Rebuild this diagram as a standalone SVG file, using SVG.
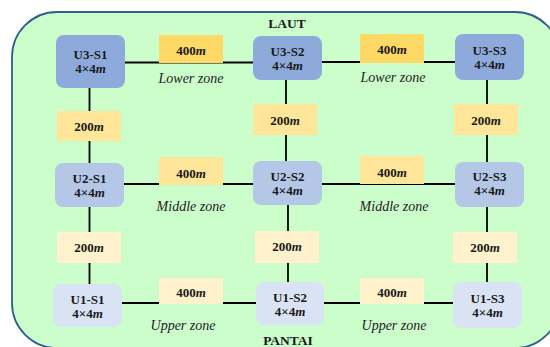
<svg xmlns="http://www.w3.org/2000/svg" width="550" height="347" viewBox="0 0 550 347">
  <style>
    .t { font-family: "Liberation Serif", "Times New Roman", serif; font-weight: bold; font-size: 13px; fill: #1a1a1a; text-anchor: middle; }
    .h { font-size: 13.5px; }
    .m { font-style: italic; }
    .zone { font-family: "Liberation Serif", "Times New Roman", serif; font-style: italic; font-size: 14px; fill: #222; text-anchor: middle; }
    .u3 { fill: #8eaadb; }
    .u2 { fill: #b4c7e7; }
    .u1 { fill: #dae3f3; }
    .la { fill: #ffd966; }
    .lb { fill: #ffe699; }
    .lc { fill: #fff2cc; }
    .link { stroke: #000; stroke-width: 1.8; fill: none; }
  </style>

  <!-- area boundary -->
  <rect x="12" y="12" width="548" height="336" rx="45" ry="45" fill="#ccfecc" stroke="#2f5f8f" stroke-width="1.8"/>
  <text class="t h" x="287" y="28">LAUT</text>
  <text class="t h" x="288" y="345">PANTAI</text>

  <!-- connectors -->
  <g id="connectors" class="link">
    <line x1="125" y1="62.5" x2="253" y2="62.5"/>
    <line x1="322" y1="62" x2="455" y2="62"/>
    <line x1="124" y1="184" x2="253" y2="184"/>
    <line x1="322" y1="184" x2="455" y2="184"/>
    <line x1="122" y1="303" x2="256" y2="303"/>
    <line x1="324" y1="303" x2="453" y2="303"/>
    <line x1="89.5" y1="88" x2="89.5" y2="163"/>
    <line x1="89.5" y1="207" x2="89.5" y2="284"/>
    <line x1="286" y1="80" x2="286" y2="161"/>
    <line x1="288" y1="205" x2="288" y2="282"/>
    <line x1="487" y1="80" x2="487" y2="162"/>
    <line x1="487" y1="207" x2="487" y2="282"/>
  </g>

  <!-- distance labels -->
  <g id="d-u3-s1-s2"><rect class="la" x="159" y="35" width="64" height="28"/><text class="t" x="191" y="55">400<tspan class="m">m</tspan></text></g>
  <g id="d-u3-s2-s3"><rect class="la" x="360" y="34" width="64" height="29"/><text class="t" x="392" y="54">400<tspan class="m">m</tspan></text></g>
  <g id="d-u2-s1-s2"><rect class="lb" x="159" y="157" width="64" height="28"/><text class="t" x="191" y="178">400<tspan class="m">m</tspan></text></g>
  <g id="d-u2-s2-s3"><rect class="lb" x="360" y="156" width="64" height="28"/><text class="t" x="392" y="177">400<tspan class="m">m</tspan></text></g>
  <g id="d-u1-s1-s2"><rect class="lc" x="159" y="278" width="64" height="26"/><text class="t" x="191" y="297">400<tspan class="m">m</tspan></text></g>
  <g id="d-u1-s2-s3"><rect class="lc" x="360" y="278" width="64" height="26"/><text class="t" x="392" y="297">400<tspan class="m">m</tspan></text></g>

  <g id="d-s1-u3-u2"><rect class="lb" x="57" y="111" width="64" height="30"/><text class="t" x="89" y="131">200<tspan class="m">m</tspan></text></g>
  <g id="d-s2-u3-u2"><rect class="lb" x="253" y="104" width="64" height="31"/><text class="t" x="285" y="125">200<tspan class="m">m</tspan></text></g>
  <g id="d-s3-u3-u2"><rect class="lb" x="454" y="104" width="64" height="31"/><text class="t" x="486" y="125">200<tspan class="m">m</tspan></text></g>
  <g id="d-s1-u2-u1"><rect class="lc" x="57" y="232" width="64" height="31"/><text class="t" x="89" y="252">200<tspan class="m">m</tspan></text></g>
  <g id="d-s2-u2-u1"><rect class="lc" x="255" y="231" width="64" height="32"/><text class="t" x="287" y="251">200<tspan class="m">m</tspan></text></g>
  <g id="d-s3-u2-u1"><rect class="lc" x="453" y="232" width="64" height="31"/><text class="t" x="485" y="252">200<tspan class="m">m</tspan></text></g>

  <!-- zone captions -->
  <text class="zone" x="191" y="83">Lower zone</text>
  <text class="zone" x="393" y="82">Lower zone</text>
  <text class="zone" x="191" y="211">Middle zone</text>
  <text class="zone" x="394" y="211">Middle zone</text>
  <text class="zone" x="183" y="330">Upper zone</text>
  <text class="zone" x="394" y="330">Upper zone</text>

  <!-- stations -->
  <g id="U3-S1"><rect class="u3" x="56" y="35" width="69" height="53" rx="8"/><text class="t" x="90.5" y="58.5">U3-S1</text><text class="t" x="90.5" y="72.5">4×4<tspan class="m">m</tspan></text></g>
  <g id="U3-S2"><rect class="u3" x="253" y="36" width="69" height="44" rx="8"/><text class="t" x="287.5" y="55.5">U3-S2</text><text class="t" x="287.5" y="69.5">4×4<tspan class="m">m</tspan></text></g>
  <g id="U3-S3"><rect class="u3" x="455" y="34" width="69" height="46" rx="8"/><text class="t" x="489.5" y="54.5">U3-S3</text><text class="t" x="489.5" y="68.5">4×4<tspan class="m">m</tspan></text></g>

  <g id="U2-S1"><rect class="u2" x="55" y="163" width="69" height="44" rx="8"/><text class="t" x="89.5" y="182.5">U2-S1</text><text class="t" x="89.5" y="196.5">4×4<tspan class="m">m</tspan></text></g>
  <g id="U2-S2"><rect class="u2" x="253" y="161" width="69" height="44" rx="8"/><text class="t" x="287.5" y="180.5">U2-S2</text><text class="t" x="287.5" y="194.5">4×4<tspan class="m">m</tspan></text></g>
  <g id="U2-S3"><rect class="u2" x="455" y="162" width="69" height="45" rx="8"/><text class="t" x="489.5" y="181">U2-S3</text><text class="t" x="489.5" y="195">4×4<tspan class="m">m</tspan></text></g>

  <g id="U1-S1"><rect class="u1" x="53" y="284" width="69" height="43" rx="8"/><text class="t" x="87.5" y="303.5">U1-S1</text><text class="t" x="87.5" y="317.5">4×4<tspan class="m">m</tspan></text></g>
  <g id="U1-S2"><rect class="u1" x="256" y="282" width="68" height="43" rx="8"/><text class="t" x="290" y="301.5">U1-S2</text><text class="t" x="290" y="315.5">4×4<tspan class="m">m</tspan></text></g>
  <g id="U1-S3"><rect class="u1" x="453" y="282" width="69" height="46" rx="8"/><text class="t" x="487.5" y="302.5">U1-S3</text><text class="t" x="487.5" y="316.5">4×4<tspan class="m">m</tspan></text></g>
</svg>
